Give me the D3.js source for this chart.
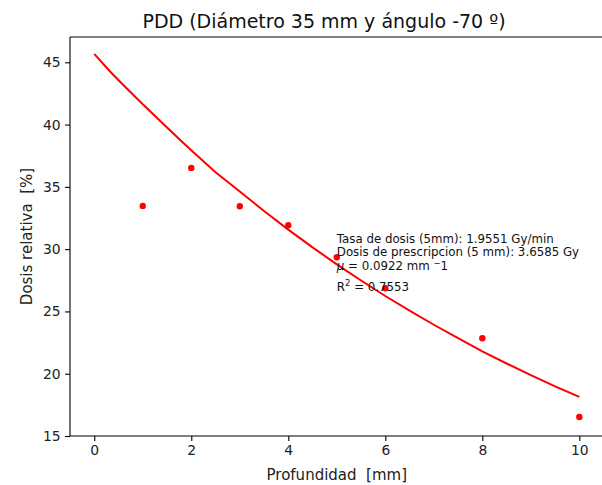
<!DOCTYPE html>
<html>
<head>
<meta charset="utf-8">
<script src="https://cdn.jsdelivr.net/npm/d3@7"></script>
<style>
  html, body { margin: 0; padding: 0; background: #fff; }
  svg { display: block; font-family: "DejaVu Sans", sans-serif; }
  text { white-space: pre; }
</style>
</head>
<body>
<svg id="chart" width="602" height="485"></svg>
<script>
// Measured relative dose per depth
const depths = [1, 2, 3, 4, 5, 6, 8, 10];
const doses = [33.47, 36.52, 33.44, 31.92, 29.35, 26.86, 22.85, 16.53];

// Exponential fit curve, sampled along depth
const fitDepths = [0, 0.34, 0.62, 1.0, 1.5, 1.81, 2.05, 2.5, 3.0, 3.5, 4.0, 4.5, 5.0, 5.5, 6.0, 6.5, 7.0, 7.5, 8.0, 8.5, 9.0, 9.5, 10.0];
const fitDoses = [45.67, 44.2, 43.1, 41.63, 39.77, 38.62, 37.76, 36.17, 34.62, 33.06, 31.57, 30.14, 28.78, 27.48, 26.24, 25.06, 23.93, 22.85, 21.8, 20.82, 19.88, 18.99, 18.14];

const xTicks = [0, 2, 4, 6, 8, 10];
const yTicks = [15, 20, 25, 30, 35, 40, 45];

const titleText = "PDD (Diámetro 35 mm y ángulo -70 º)";
const xLabel = "Profundidad  [mm]";
const yLabel = "Dosis relativa  [%]";
const noteLines = [
  "Tasa de dosis (5mm): 1.9551 Gy/min",
  "Dosis de prescripcion (5 mm): 3.6585 Gy"
];
const muValue = "0.0922";
const r2Value = "0.7553";

const svg = d3.select("#chart");
const plot = { left: 70, top: 37, right: 603.6, bottom: 436 };

const x = d3.scaleLinear().domain([-0.5, 10.5]).range([plot.left, plot.right]);
const y = d3.scaleLinear().domain([15, 47.03]).range([plot.bottom, plot.top]);

// Axes
const xAxis = d3.axisBottom(x).tickValues(xTicks).tickSize(4.9).tickPadding(4.5).tickFormat(d3.format("d"));
const yAxis = d3.axisLeft(y).tickValues(yTicks).tickSize(4.9).tickPadding(4.5).tickFormat(d3.format("d"));

const gx = svg.append("g").attr("transform", `translate(0,${plot.bottom})`).call(xAxis);
const gy = svg.append("g").attr("transform", `translate(${plot.left},0)`).call(yAxis);

[gx, gy].forEach(g => {
  g.select(".domain").remove();
  g.selectAll(".tick line").attr("stroke", "#000").attr("stroke-width", 1.1);
  g.selectAll(".tick text")
    .attr("fill", "#222")
    .style("font-family", "DejaVu Sans, sans-serif")
    .style("font-size", "13.9px");
});

// Spines (left, bottom, top)
const spine = svg.append("g").attr("stroke", "#000").attr("stroke-width", 1.1).attr("fill", "none");
spine.append("line").attr("x1", plot.left).attr("x2", plot.left).attr("y1", plot.top).attr("y2", plot.bottom);
spine.append("line").attr("x1", plot.left).attr("x2", plot.right).attr("y1", plot.bottom).attr("y2", plot.bottom);
spine.append("line").attr("x1", plot.left).attr("x2", plot.right).attr("y1", plot.top).attr("y2", plot.top);

// Fit line
const line = d3.line().x((d, i) => x(fitDepths[i])).y(d => y(d));
svg.append("path")
  .datum(fitDoses)
  .attr("d", line)
  .attr("fill", "none")
  .attr("stroke", "#ff0000")
  .attr("stroke-width", 2);

// Measured points
svg.append("g").selectAll("circle")
  .data(doses)
  .join("circle")
  .attr("cx", (d, i) => x(depths[i]))
  .attr("cy", d => y(d))
  .attr("r", 3.2)
  .attr("fill", "#ff0000");

// Annotation block anchored at depth 5 mm
const note = svg.append("g").attr("fill", "#111").style("font-size", "11.8px");
const noteY = [30.49, 29.45];
noteLines.forEach((t, i) => {
  note.append("text").attr("x", x(5)).attr("y", y(noteY[i])).text(t);
});
const muText = note.append("text").attr("x", x(5)).attr("y", y(28.33));
muText.append("tspan").style("font-style", "italic").text("μ");
muText.append("tspan").text(" = " + muValue + " mm ");
muText.append("tspan").attr("dy", -4).style("font-size", "8.5px").text("−");
muText.append("tspan").attr("dy", 4).text("1");

const r2Text = note.append("text").attr("x", x(5)).attr("y", y(26.66));
r2Text.append("tspan").text("R");
r2Text.append("tspan").attr("dy", -4.5).style("font-size", "8.5px").text("2");
r2Text.append("tspan").attr("dy", 4.5).text(" = " + r2Value);

// Title and axis labels
svg.append("text")
  .attr("x", 324)
  .attr("y", 28.3)
  .attr("text-anchor", "middle")
  .style("font-size", "19px")
  .attr("fill", "#111")
  .text(titleText);

svg.append("text")
  .attr("x", (plot.left + plot.right) / 2)
  .attr("y", 480)
  .attr("text-anchor", "middle")
  .style("font-size", "15px")
  .attr("fill", "#222")
  .text(xLabel);

svg.append("text")
  .attr("transform", `translate(31.5,${(plot.top + plot.bottom) / 2}) rotate(-90)`)
  .attr("text-anchor", "middle")
  .style("font-size", "15px")
  .attr("fill", "#222")
  .text(yLabel);
</script>
</body>
</html>
